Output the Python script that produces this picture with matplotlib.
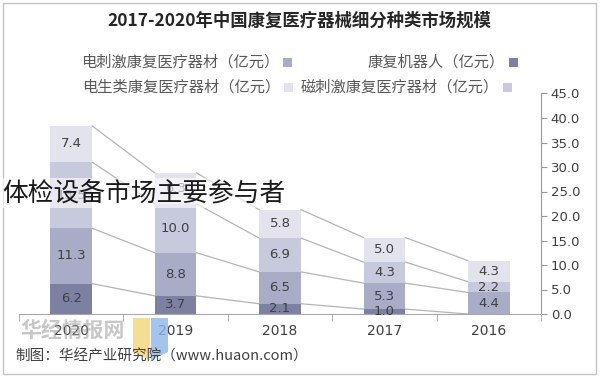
import matplotlib
matplotlib.use("Agg")
import matplotlib.pyplot as plt
from matplotlib.patches import Rectangle, Polygon
import numpy as np

plt.rcParams['font.family'] = ['Noto Sans CJK SC', 'DejaVu Sans']

years = ['2016', '2017', '2018', '2019', '2020']
robot = [0.0, 1.0, 2.1, 3.7, 6.2]
electric_stim = [4.4, 5.3, 6.5, 8.8, 11.3]
magnetic_stim = [2.2, 4.3, 6.9, 10.0, 13.5]
electro_cls = [4.3, 5.0, 5.8, 6.3, 7.4]

series_names = ['康复机器人（亿元）', '电刺激康复医疗器材（亿元）',
                '磁刺激康复医疗器材（亿元）', '电生类康复医疗器材（亿元）']
series = [robot, electric_stim, magnetic_stim, electro_cls]
colors = ['#7c81a1', '#a9acc7', '#c7c9dc', '#e2e3ec']

title = '2017-2020年中国康复医疗器械细分种类市场规模'
source = '制图：华经产业研究院（www.huaon.com）'
overlay = '体检设备市场主要参与者'

W, H = 600, 377
fig = plt.figure(figsize=(W / 100, H / 100), dpi=100)
fig.patch.set_facecolor('white')

def fx(x):
    return x / W

def fy(y):
    return 1 - y / H

# outer frame
fig.patches.append(Rectangle((fx(3), fy(374)), fx(593), 371 / H, transform=fig.transFigure,
                             fill=False, edgecolor='#c4c4c4', linewidth=1.0))

ax = fig.add_axes([fx(19), fy(314), fx(541 - 19), (314 - 93.5) / H])
x = np.arange(len(years))
width = 0.40
bottom = np.zeros(len(years))
tops = []
for vals, col in zip(series, colors):
    v = np.array(vals)
    ax.bar(x, v, width, bottom=bottom, color=col, edgecolor='none', zorder=2)
    for xi, b, val in zip(x, bottom, v):
        if val > 0:
            ax.text(xi, b + val / 2, f'{val:.1f}', ha='center', va='center',
                    fontsize=9.5, color='#404040', family='DejaVu Sans', zorder=3)
    bottom = bottom + v
    tops.append(bottom.copy())

# series lines between adjacent bars
for t in tops:
    for i in range(1, len(years)):
        ax.plot([x[i] - width / 2, x[i - 1] + width / 2], [t[i], t[i - 1]],
                color='#b5b5b5', linewidth=0.9, zorder=1)

ax.set_xlim(4.5, -0.5)
ax.set_ylim(0, 45)
ax.set_yticks(np.arange(0, 45.1, 5))
ax.set_yticklabels([f'{v:.1f}' for v in np.arange(0, 45.1, 5)])
ax.yaxis.tick_right()
ax.tick_params(axis='y', direction='out', length=4, color='#9a9a9a',
               labelsize=9.5, labelcolor='#404040', pad=3)
ax.set_xticks(x)
ax.set_xticklabels(years)
ax.tick_params(axis='x', length=0, labelsize=10, labelcolor='#404040', pad=7)
ax.set_xticks(np.arange(-0.5, 4.6, 1), minor=True)
ax.tick_params(axis='x', which='minor', length=5, direction='out', color='#a0a0a0')
for lab in ax.get_xticklabels() + ax.get_yticklabels():
    lab.set_family('DejaVu Sans')
for s in ['left', 'top']:
    ax.spines[s].set_visible(False)
ax.spines['right'].set_color('#9a9a9a')
ax.spines['bottom'].set_color('#a8a8a8')
ax.set_facecolor('none')

# title
fig.text(fx(299), fy(21), title, ha='center', va='center', fontsize=12.5,
         fontweight='bold', color='#262626')

# legend (marker placed as in reference)
legend_pos = [(505, 62), (279, 62), (499, 87), (280, 87)]
for (tx, ty), name, col in zip(legend_pos, series_names, colors):
    fig.text(fx(tx), fy(ty), name, ha='right', va='center', fontsize=11, color='#595959')
    fig.patches.append(Rectangle((fx(tx + 4), fy(ty + 4.5)), 9 / W, 9 / H,
                                 transform=fig.transFigure, facecolor=col, edgecolor='none'))

# source / watermark
fig.text(fx(15), fy(356), source, ha='left', va='center', fontsize=10.5, color='#404040')
fig.text(fx(20), fy(330), '华经情报网', ha='left', va='center', fontsize=15,
         fontweight='bold', color='#9a9a9a', alpha=0.55)
fig.patches.append(Polygon([(fx(133), fy(352)), (fx(150), fy(360)), (fx(150), fy(318)), (fx(133), fy(318))],
                           closed=True, transform=fig.transFigure, facecolor='#f3d67a', edgecolor='none', alpha=0.8))
fig.patches.append(Polygon([(fx(151), fy(360)), (fx(168), fy(352)), (fx(168), fy(318)), (fx(151), fy(318))],
                           closed=True, transform=fig.transFigure, facecolor='#8db6e6', edgecolor='none', alpha=0.8))

# overlay caption
fig.text(fx(2), fy(193), overlay, ha='left', va='center', fontsize=18.5, color='#1a1a1a',
         bbox=dict(boxstyle='square,pad=0.08', facecolor='white', edgecolor='none', alpha=0.6),
         zorder=10)

fig.savefig('out.png', dpi=100)
